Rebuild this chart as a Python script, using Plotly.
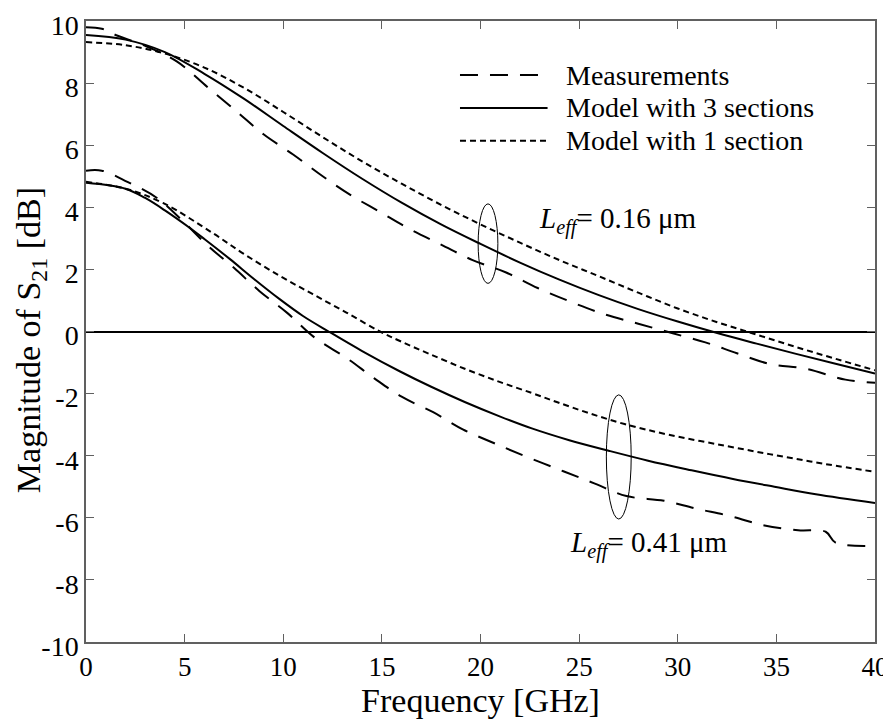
import plotly.graph_objects as go

# ---- data ----
# L_eff = 0.16 um
f_meas_016 = [0, 0.8, 1.5, 3, 4.6, 6.2, 7.7, 9, 10.5, 12, 13.4, 14.9, 16.4, 18, 19.6,
              21.3, 22.9, 24.6, 26.3, 28, 29.7, 31.4, 33, 34.7, 36.5, 38.5, 40]
s21_meas_016 = [9.8, 9.75, 9.55, 9.2, 8.7, 7.85, 7.05, 6.35, 5.7, 5.0, 4.4, 3.85, 3.3, 2.8, 2.3,
                1.9, 1.4, 0.95, 0.55, 0.25, -0.05, -0.35, -0.7, -1.05, -1.2, -1.55, -1.65]

f_model = [0, 2, 4, 6, 8, 10, 12, 14, 16, 18, 20, 22, 24, 26, 28, 30, 32, 34, 36, 38, 40]
s21_3sec_016 = [9.55, 9.4, 9.0, 8.3, 7.5, 6.62, 5.75, 4.92, 4.15, 3.45, 2.82, 2.22, 1.67,
                1.17, 0.72, 0.32, -0.05, -0.39, -0.72, -1.04, -1.35]
s21_1sec_016 = [9.32, 9.22, 8.95, 8.5, 7.85, 7.07, 6.26, 5.48, 4.76, 4.08, 3.45, 2.86, 2.3,
                1.78, 1.25, 0.74, 0.3, -0.1, -0.5, -0.88, -1.25]

# L_eff = 0.41 um
f_meas_041 = [0, 0.8, 2.1, 3.6, 5, 6.2, 7.5, 8.8, 10.2, 11.6, 13.2, 14.6, 16, 17.6, 19.1,
              20.7, 22.4, 24.2, 25.8, 27.4, 29.3, 30.9, 32.7, 34.4, 36.1, 37.5, 38, 40]
s21_meas_041 = [5.18, 5.18, 4.82, 4.3, 3.5, 2.75, 2.05, 1.3, 0.6, -0.2, -0.85, -1.5, -2.1, -2.6,
                -3.15, -3.6, -4.05, -4.5, -4.9, -5.3, -5.45, -5.7, -5.95, -6.25, -6.4, -6.45,
                -6.8, -6.9]

f_3sec_041 = [0, 2, 3, 4, 5.25, 6, 7.3, 8.5, 9.8, 11, 12.3, 14, 15.9, 17.5, 19.2, 21, 22.6,
              24.5, 26.5, 28.5, 30.7, 32.8, 34.9, 37, 40]
s21_3sec_041 = [4.79, 4.6, 4.3, 3.9, 3.34, 2.98, 2.33, 1.7, 1.05, 0.5, 0, -0.63, -1.28, -1.78,
                -2.27, -2.74, -3.12, -3.5, -3.84, -4.16, -4.47, -4.75, -5.0, -5.24, -5.52]

f_1sec_041 = [0, 2, 3.9, 6.4, 8, 9.8, 11.5, 13.2, 14.9, 16, 17.4, 19.2, 21, 22.6, 23.9,
              25.5, 27.3, 29.5, 32.4, 35, 37.5, 40]
s21_1sec_041 = [4.82, 4.6, 4.14, 3.18, 2.5, 1.8, 1.2, 0.61, 0.0, -0.33, -0.72, -1.2, -1.63,
                -1.98, -2.28, -2.63, -2.98, -3.32, -3.68, -3.99, -4.27, -4.52]

legend_names = ["Measurements", "Model with 3 sections", "Model with 1 section"]
labels = ["<i>L<sub>eff</sub></i>= 0.16 μm", "<i>L<sub>eff</sub></i>= 0.41 μm"]

x_ticks = list(range(0, 41, 5))
y_ticks = list(range(-10, 11, 2))
y_ticktext = [str(v) for v in y_ticks]   # plain hyphen minus, like the original

FONT = "Liberation Serif"
AX = "#606060"
meas_dash = "18px,12px"
sec1_dash = "6px,4px"

line_meas = dict(color="black", width=2, dash=meas_dash)
line_3sec = dict(color="black", width=2)
line_1sec = dict(color="black", width=2, dash=sec1_dash)

data = [
    go.Scatter(x=f_meas_016, y=s21_meas_016, mode="lines", line=line_meas, line_shape="spline"),
    go.Scatter(x=f_model, y=s21_3sec_016, mode="lines", line=line_3sec, line_shape="spline"),
    go.Scatter(x=f_model, y=s21_1sec_016, mode="lines", line=line_1sec, line_shape="spline"),
    go.Scatter(x=f_meas_041, y=s21_meas_041, mode="lines", line=line_meas, line_shape="spline"),
    go.Scatter(x=f_3sec_041, y=s21_3sec_041, mode="lines", line=line_3sec, line_shape="spline"),
    go.Scatter(x=f_1sec_041, y=s21_1sec_041, mode="lines", line=line_1sec, line_shape="spline"),
]

axis_common = dict(showline=True, linecolor=AX, linewidth=1.5, mirror="ticks",
                   ticks="inside", ticklen=8, tickcolor=AX, tickwidth=1, automargin=False,
                   ticklabeloverflow="allow", showgrid=False)

# page body has an 8px margin, so the figure is a bit smaller than the window
layout = go.Layout(
    width=883, height=716,
    paper_bgcolor="white", plot_bgcolor="white",
    margin=dict(l=78, r=16, t=13, b=82),
    showlegend=False,
    font=dict(family=FONT, color="black"),
    xaxis=dict(range=[0, 40], tickvals=x_ticks, zeroline=False,
               tickfont=dict(family=FONT, size=27, color="black"),
               title=dict(text="Frequency [GHz]", font=dict(family=FONT, size=34), standoff=2),
               **axis_common),
    yaxis=dict(range=[-10, 10], tickvals=y_ticks, ticktext=y_ticktext,
               tickfont=dict(family=FONT, size=28, color="black"), ticklabelshift=4,
               zeroline=True, zerolinecolor="black", zerolinewidth=2,
               **axis_common),
)

fig = go.Figure(data=data, layout=layout)

# y title as annotation, sits a little below the plot centre in the original
fig.add_annotation(x=0, y=0.486, xref="paper", yref="paper", xshift=-55, textangle=-90,
                   text="Magnitude of S<sub>21</sub> [dB]", showarrow=False,
                   xanchor="center", yanchor="middle", font=dict(family=FONT, size=34))

# group ellipses
fig.add_shape(type="circle", xref="x", yref="y", x0=19.88, x1=20.88, y0=1.55, y1=4.11,
              line=dict(color="black", width=1))
fig.add_shape(type="circle", xref="x", yref="y", x0=26.38, x1=27.64, y0=-6.04, y1=-2.04,
              line=dict(color="black", width=1))

# group labels
fig.add_annotation(x=22.85, y=3.57, xref="x", yref="y", text=labels[0], showarrow=False,
                   xanchor="left", yanchor="middle", font=dict(family=FONT, size=29))
fig.add_annotation(x=24.45, y=-6.86, xref="x", yref="y", text=labels[1], showarrow=False,
                   xanchor="left", yanchor="middle", font=dict(family=FONT, size=29))

# hand-drawn legend, like in the paper figure
leg_rows = [0.913, 0.860, 0.807]
leg_dash = [meas_dash, "solid", sec1_dash]
for name, yy, dd in zip(legend_names, leg_rows, leg_dash):
    fig.add_shape(type="line", xref="x domain", yref="y domain", x0=0.474, x1=0.585, y0=yy, y1=yy,
                  line=dict(color="black", width=2, dash=dd))
    fig.add_annotation(x=0.606, y=yy, xref="x domain", yref="y domain", text=name, showarrow=False,
                       xanchor="left", yanchor="middle", font=dict(family=FONT, size=28))

fig.write_html("out.html")
